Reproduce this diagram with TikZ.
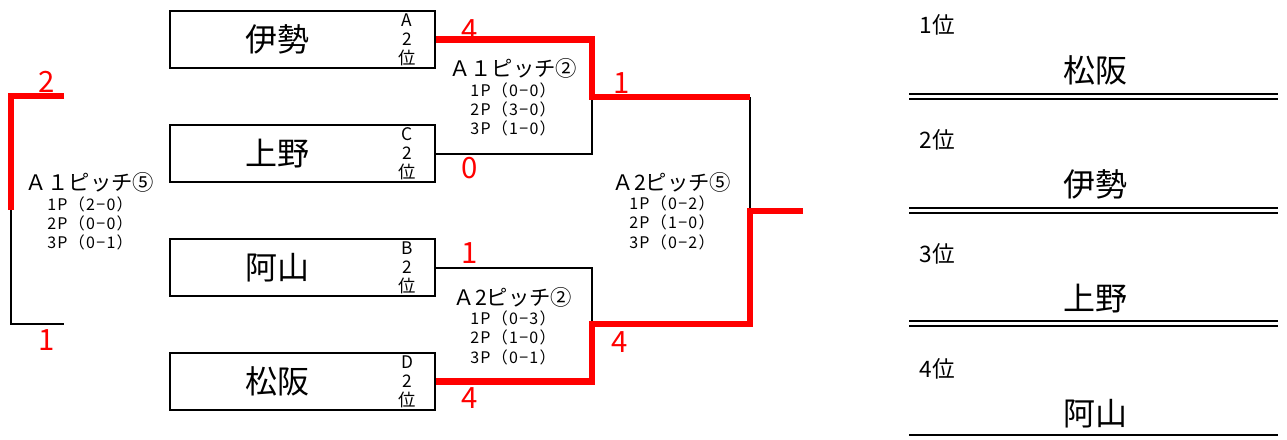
\documentclass[tikz,border=0pt]{standalone}
\usepackage{fontspec}
\setmainfont{Noto Sans CJK JP}
\begin{document}
\begin{tikzpicture}[x=0.75pt,y=-0.75pt,line width=1.5pt,
  teambox/.style={draw,minimum width=198.75pt,minimum height=42.75pt,inner sep=0pt},
  win/.style={red,line width=5pt},
  score/.style={red,font=\fontsize{22}{22}\selectfont},
  pitch/.style={align=center,font=\fontsize{12}{14.5}\selectfont\addfontfeature{LetterSpace=8}},
  rankline/.style={double,double distance=2.25pt}]
\useasboundingbox (0,0) rectangle (1287,439);
\def\hd#1{{\fontsize{16}{15}\selectfont\addfontfeature{LetterSpace=0}#1}}
\foreach \y/\n/\name/\g in {39.5/ise/伊勢/A,153.5/ueno/上野/C,267.5/ayama/阿山/B,381.5/matsusaka/松阪/D}{
  \node[teambox] (\n) at (302.5,\y) {};
  \node[font=\fontsize{24}{24}\selectfont] at (277,\y) {\name};
  \node[align=center,font=\fontsize{13}{14.25}\selectfont] at (407,\y) {\g\\2\\位};
}
\coordinate (q1) at (592,97);
\coordinate (q2) at (592,324);
\coordinate (fin) at (750,211);
\coordinate (champ) at (803,211);
\coordinate (t3) at (11,210);
\coordinate (t3a) at (64,96);
\coordinate (t3b) at (64,324);
\draw (ueno.east) -- (ueno.east -| q1) -- (q1);
\draw (ayama.east) -- (ayama.east -| q2) -- (q2);
\draw (q1 -| fin) -- (fin);
\draw (t3) -- (t3 |- t3b) -- (t3b);
\draw[win] (ise.east) -- (ise.east -| q1) -- (q1) -- (q1 -| fin);
\draw[win] (champ) -- (fin) -- (fin |- q2) -- (q2) -- (matsusaka.east -| q2) -- (matsusaka.east);
\draw[win] (t3a) -- (t3 |- t3a) -- (t3);
\node[score] at (47,82) {2};
\node[score] at (47,340) {1};
\node[score] at (470,30) {4};
\node[score] at (470,168) {0};
\node[score] at (470,253) {1};
\node[score] at (470,398) {4};
\node[score] at (622,83) {1};
\node[score] at (620,342) {4};
\node[pitch] at (90,211.5) {\hd{Ａ１ピッチ⑤}\\1P（2−0）\\2P（0−0）\\3P（0−1）};
\node[pitch] at (513,97.5) {\hd{Ａ１ピッチ②}\\1P（0−0）\\2P（3−0）\\3P（1−0）};
\node[pitch] at (513,326) {\hd{Ａ2ピッチ②}\\1P（0−3）\\2P（1−0）\\3P（0−1）};
\node[pitch] at (672,211) {\hd{Ａ2ピッチ⑤}\\1P（0−2）\\2P（1−0）\\3P（0−2）};
\foreach \i/\name in {0/松阪,1/伊勢,2/上野,3/阿山}{
  \node[anchor=west,font=\fontsize{17}{17}\selectfont] at (914,25+114.5*\i) {\the\numexpr\i+1\relax 位};
  \node[font=\fontsize{24}{24}\selectfont] at (1095,70+114.5*\i) {\name};
}
\foreach \i in {0,1,2}
  \draw[rankline] (909,96.5+113.5*\i) -- (1278,96.5+113.5*\i);
\draw (909,435) -- (1278,435);
\end{tikzpicture}
\end{document}
